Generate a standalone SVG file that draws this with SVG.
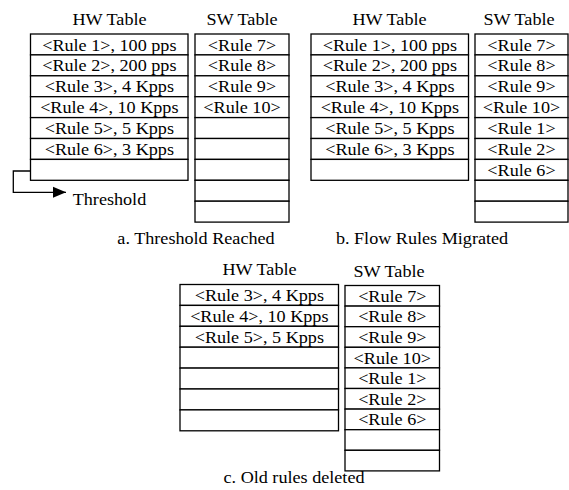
<svg xmlns="http://www.w3.org/2000/svg" width="569" height="490" viewBox="0 0 569 490">
<style>
text{font-family:'Liberation Serif','Times New Roman','DejaVu Serif',serif;font-size:16.5px;fill:#000;text-anchor:middle}
.c{fill:#fff;stroke:#000;stroke-width:1.3}
.ln{fill:none;stroke:#000;stroke-width:1.3}
</style>
<defs>
<marker id="ah" markerWidth="14" markerHeight="12" refX="13" refY="6" orient="auto" markerUnits="userSpaceOnUse">
<path d="M0,0.5 L13,6 L0,11.5 Z" fill="#000"/>
</marker>
</defs>
<rect width="569" height="490" fill="#fff"/>

<!-- a -->
<g id="hw-a">
<text transform="translate(109.5 25) scale(1.1 1)">HW Table</text>
<rect class="c" x="30.5" y="34" width="157.5" height="20.9"/>
<rect class="c" x="30.5" y="54.9" width="157.5" height="20.9"/>
<rect class="c" x="30.5" y="75.8" width="157.5" height="20.9"/>
<rect class="c" x="30.5" y="96.7" width="157.5" height="20.9"/>
<rect class="c" x="30.5" y="117.6" width="157.5" height="20.9"/>
<rect class="c" x="30.5" y="138.5" width="157.5" height="20.9"/>
<rect class="c" x="30.5" y="159.4" width="157.5" height="20.9"/>
<text transform="translate(109.3 50.5) scale(1.1 1)">&lt;Rule 1&gt;, 100 pps</text>
<text transform="translate(109.3 71.4) scale(1.1 1)">&lt;Rule 2&gt;, 200 pps</text>
<text transform="translate(109.3 92.3) scale(1.1 1)">&lt;Rule 3&gt;, 4 Kpps</text>
<text transform="translate(109.3 113.2) scale(1.1 1)">&lt;Rule 4&gt;, 10 Kpps</text>
<text transform="translate(109.3 134.1) scale(1.1 1)">&lt;Rule 5&gt;, 5 Kpps</text>
<text transform="translate(109.3 155) scale(1.1 1)">&lt;Rule 6&gt;, 3 Kpps</text>
</g>
<g id="sw-a">
<text transform="translate(242 25) scale(1.1 1)">SW Table</text>
<rect class="c" x="195" y="34" width="94" height="20.9"/>
<rect class="c" x="195" y="54.9" width="94" height="20.9"/>
<rect class="c" x="195" y="75.8" width="94" height="20.9"/>
<rect class="c" x="195" y="96.7" width="94" height="20.9"/>
<rect class="c" x="195" y="117.6" width="94" height="20.9"/>
<rect class="c" x="195" y="138.5" width="94" height="20.9"/>
<rect class="c" x="195" y="159.4" width="94" height="20.9"/>
<rect class="c" x="195" y="180.3" width="94" height="20.9"/>
<rect class="c" x="195" y="201.2" width="94" height="20.9"/>
<text transform="translate(242 50.5) scale(1.1 1)">&lt;Rule 7&gt;</text>
<text transform="translate(242 71.4) scale(1.1 1)">&lt;Rule 8&gt;</text>
<text transform="translate(242 92.3) scale(1.1 1)">&lt;Rule 9&gt;</text>
<text transform="translate(242 113.2) scale(1.1 1)">&lt;Rule 10&gt;</text>
</g>
<g id="threshold">
<text transform="translate(72.7 205) scale(1.1 1)" style="text-anchor:start">Threshold</text>
</g>
<g id="connectors">
<path class="ln" d="M30.5,171 H13.3 V192.3 H66" marker-end="url(#ah)"/>
</g>
<text id="cap-a" transform="translate(196 244) scale(1.1 1)">a. Threshold Reached</text>

<!-- b -->
<g id="hw-b">
<text transform="translate(389.5 25) scale(1.1 1)">HW Table</text>
<rect class="c" x="311" y="34" width="157.5" height="20.9"/>
<rect class="c" x="311" y="54.9" width="157.5" height="20.9"/>
<rect class="c" x="311" y="75.8" width="157.5" height="20.9"/>
<rect class="c" x="311" y="96.7" width="157.5" height="20.9"/>
<rect class="c" x="311" y="117.6" width="157.5" height="20.9"/>
<rect class="c" x="311" y="138.5" width="157.5" height="20.9"/>
<rect class="c" x="311" y="159.4" width="157.5" height="20.9"/>
<text transform="translate(389.8 50.5) scale(1.1 1)">&lt;Rule 1&gt;, 100 pps</text>
<text transform="translate(389.8 71.4) scale(1.1 1)">&lt;Rule 2&gt;, 200 pps</text>
<text transform="translate(389.8 92.3) scale(1.1 1)">&lt;Rule 3&gt;, 4 Kpps</text>
<text transform="translate(389.8 113.2) scale(1.1 1)">&lt;Rule 4&gt;, 10 Kpps</text>
<text transform="translate(389.8 134.1) scale(1.1 1)">&lt;Rule 5&gt;, 5 Kpps</text>
<text transform="translate(389.8 155) scale(1.1 1)">&lt;Rule 6&gt;, 3 Kpps</text>
</g>
<g id="sw-b">
<text transform="translate(519 25) scale(1.1 1)">SW Table</text>
<rect class="c" x="475" y="34" width="93" height="20.9"/>
<rect class="c" x="475" y="54.9" width="93" height="20.9"/>
<rect class="c" x="475" y="75.8" width="93" height="20.9"/>
<rect class="c" x="475" y="96.7" width="93" height="20.9"/>
<rect class="c" x="475" y="117.6" width="93" height="20.9"/>
<rect class="c" x="475" y="138.5" width="93" height="20.9"/>
<rect class="c" x="475" y="159.4" width="93" height="20.9"/>
<rect class="c" x="475" y="180.3" width="93" height="20.9"/>
<rect class="c" x="475" y="201.2" width="93" height="20.9"/>
<text transform="translate(521.5 50.5) scale(1.1 1)">&lt;Rule 7&gt;</text>
<text transform="translate(521.5 71.4) scale(1.1 1)">&lt;Rule 8&gt;</text>
<text transform="translate(521.5 92.3) scale(1.1 1)">&lt;Rule 9&gt;</text>
<text transform="translate(521.5 113.2) scale(1.1 1)">&lt;Rule 10&gt;</text>
<text transform="translate(521.5 134.1) scale(1.1 1)">&lt;Rule 1&gt;</text>
<text transform="translate(521.5 155) scale(1.1 1)">&lt;Rule 2&gt;</text>
<text transform="translate(521.5 175.9) scale(1.1 1)">&lt;Rule 6&gt;</text>
</g>
<text id="cap-b" transform="translate(422 244) scale(1.1 1)">b. Flow Rules Migrated</text>

<!-- c -->
<g id="hw-c">
<text transform="translate(259.5 275) scale(1.1 1)">HW Table</text>
<rect class="c" x="180" y="284.5" width="158.5" height="20.9"/>
<rect class="c" x="180" y="305.4" width="158.5" height="20.9"/>
<rect class="c" x="180" y="326.3" width="158.5" height="20.9"/>
<rect class="c" x="180" y="347.2" width="158.5" height="20.9"/>
<rect class="c" x="180" y="368.1" width="158.5" height="20.9"/>
<rect class="c" x="180" y="389" width="158.5" height="20.9"/>
<rect class="c" x="180" y="409.9" width="158.5" height="20.9"/>
<text transform="translate(259.3 301) scale(1.1 1)">&lt;Rule 3&gt;, 4 Kpps</text>
<text transform="translate(259.3 321.9) scale(1.1 1)">&lt;Rule 4&gt;, 10 Kpps</text>
<text transform="translate(259.3 342.8) scale(1.1 1)">&lt;Rule 5&gt;, 5 Kpps</text>
</g>
<g id="sw-c">
<text transform="translate(389 277) scale(1.1 1)">SW Table</text>
<rect class="c" x="345" y="285.5" width="94.5" height="20.6"/>
<rect class="c" x="345" y="306.1" width="94.5" height="20.6"/>
<rect class="c" x="345" y="326.7" width="94.5" height="20.6"/>
<rect class="c" x="345" y="347.3" width="94.5" height="20.6"/>
<rect class="c" x="345" y="367.9" width="94.5" height="20.6"/>
<rect class="c" x="345" y="388.5" width="94.5" height="20.6"/>
<rect class="c" x="345" y="409.1" width="94.5" height="20.6"/>
<rect class="c" x="345" y="429.7" width="94.5" height="20.6"/>
<rect class="c" x="345" y="450.3" width="94.5" height="20.6"/>
<text transform="translate(392.3 301.8) scale(1.1 1)">&lt;Rule 7&gt;</text>
<text transform="translate(392.3 322.4) scale(1.1 1)">&lt;Rule 8&gt;</text>
<text transform="translate(392.3 343) scale(1.1 1)">&lt;Rule 9&gt;</text>
<text transform="translate(392.3 363.6) scale(1.1 1)">&lt;Rule 10&gt;</text>
<text transform="translate(392.3 384.2) scale(1.1 1)">&lt;Rule 1&gt;</text>
<text transform="translate(392.3 404.8) scale(1.1 1)">&lt;Rule 2&gt;</text>
<text transform="translate(392.3 425.4) scale(1.1 1)">&lt;Rule 6&gt;</text>
</g>
<text id="cap-c" transform="translate(294 483) scale(1.1 1)">c. Old rules deleted</text>
</svg>
